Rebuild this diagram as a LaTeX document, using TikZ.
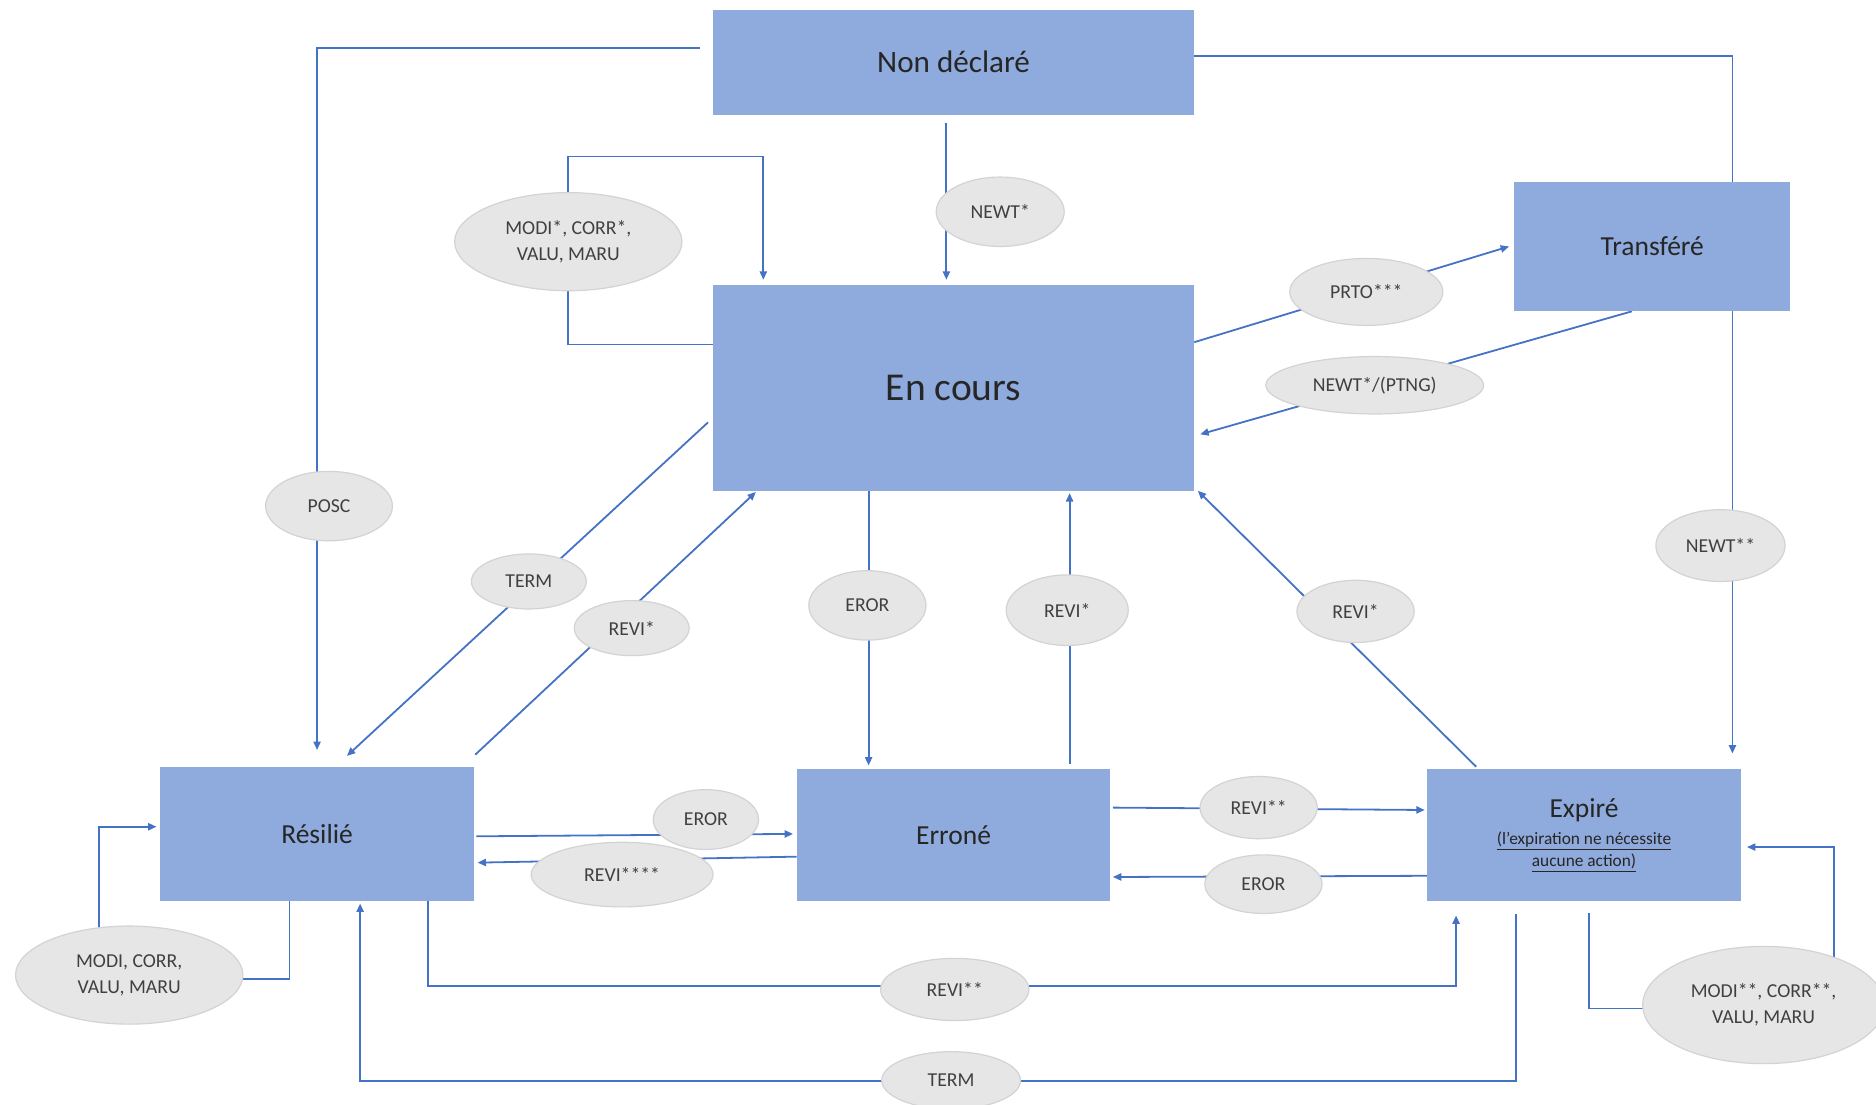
\documentclass[tikz,border=0pt]{standalone}
\usepackage{fontspec}
\setmainfont{Carlito}
\usepackage{tikz}
\definecolor{stateblue}{RGB}{143, 170, 220}
\definecolor{linkblue}{RGB}{68, 114, 196}
\definecolor{eventgray}{RGB}{231, 230, 230}
\definecolor{eventedge}{RGB}{212, 210, 210}
\usetikzlibrary{shapes.geometric, arrows.meta, positioning, calc, backgrounds}

\begin{document}
\begin{tikzpicture}[
    x=1pt, y=-1pt,
    state/.style={rectangle, fill=stateblue, inner sep=0pt, text=black!85,
                  align=center, font=\fontsize{23}{27}\selectfont},
    event/.style={ellipse, fill=eventgray, draw=eventedge, line width=1pt,
                  inner sep=0pt, text=black!75, align=center,
                  font=\fontsize{16.5}{22}\selectfont},
    link/.style={draw=linkblue, line width=1.5pt},
    arr/.style={link, -{Triangle[length=7pt, width=6pt]}}
]
    \useasboundingbox (0,0) rectangle (1568,923);

    % States
    \node[state, minimum width=402pt, minimum height=88pt, font=\fontsize{26}{30}\selectfont] (nondecl) at (797,52) {Non déclaré};
    \node[state, minimum width=402pt, minimum height=172pt, font=\fontsize{33}{38}\selectfont] (encours) at (797,324) {En cours};
    \node[state, minimum width=231pt, minimum height=108pt] (transf) at (1381,206) {Transféré};
    \node[state, minimum width=262pt, minimum height=112pt] (resil) at (265,697) {Résilié};
    \node[state, minimum width=262pt, minimum height=110pt] (erron) at (797,698) {Erroné};
    \node[state, minimum width=262pt, minimum height=110pt, font=\fontsize{14.5}{18.5}\selectfont] (expire) at (1324,698)
        {{\fontsize{23}{27}\selectfont Expiré}\\[4pt]\underline{(l’expiration ne nécessite}\\\underline{aucune action)}};

    % Events
    \node[event, minimum width=190pt, minimum height=82pt] (modiA) at (475,202) {MODI*, CORR*,\\VALU, MARU};
    \node[event, minimum width=107pt, minimum height=58pt] (newtA) at (836,177) {NEWT*};
    \node[event, minimum width=128pt, minimum height=56pt] (prto) at (1142,244) {PRTO***};
    \node[event, minimum width=182pt, minimum height=48pt] (ptng) at (1149,322) {NEWT*/(PTNG)};
    \node[event, minimum width=106pt, minimum height=58pt] (posc) at (275,423) {POSC};
    \node[event, minimum width=96pt, minimum height=46pt] (termA) at (442,486) {TERM};
    \node[event, minimum width=96pt, minimum height=46pt] (reviA) at (528,525) {REVI*};
    \node[event, minimum width=98pt, minimum height=58pt] (erorA) at (725,506) {EROR};
    \node[event, minimum width=102pt, minimum height=59pt] (reviB) at (892,510) {REVI*};
    \node[event, minimum width=98pt, minimum height=52pt] (reviC) at (1133,511) {REVI*};
    \node[event, minimum width=108pt, minimum height=60pt] (newtB) at (1438,456) {NEWT**};
    \node[event, minimum width=88pt, minimum height=50pt] (erorB) at (590,685) {EROR};
    \node[event, minimum width=152pt, minimum height=54pt] (reviD) at (520,731) {REVI****};
    \node[event, minimum width=98pt, minimum height=52pt] (reviE) at (1052,675) {REVI**};
    \node[event, minimum width=98pt, minimum height=49pt] (erorC) at (1056,739) {EROR};
    \node[event, minimum width=190pt, minimum height=82pt] (modiB) at (108,815) {MODI, CORR,\\VALU, MARU};
    \node[event, minimum width=124pt, minimum height=52pt] (reviF) at (798,827) {REVI**};
    \node[event, minimum width=116pt, minimum height=48pt] (termB) at (795,903) {TERM};
    \node[event, minimum width=202pt, minimum height=98pt] (modiC) at (1474,840) {MODI**, CORR**,\\VALU, MARU};

    % Lines
    \begin{scope}[on background layer]
    \draw[arr] ([shift={(-11pt,12pt)}]nondecl.west) -| ([yshift=14pt]resil.north);
    \draw[link] ([yshift=5pt]nondecl.east) -| ([xshift=67pt]transf.north);
    \draw[arr] ([shift={(-6pt,-7pt)}]nondecl.south) -- ([shift={(-6pt,4pt)}]encours.north);
    \draw[arr] ([yshift=36pt]encours.west) -| (modiA.center) |- ([shift={(-159pt,107pt)}]encours.north)
        -- ([shift={(-159pt,4pt)}]encours.north);
    \draw[arr] ([yshift=38pt]encours.east) -- ([xshift=-4pt]transf.west);
    \draw[arr] ([xshift=-17pt]transf.south) -- ([shift={(5pt,-39pt)}]encours.east);
    \draw[arr] ([xshift=67pt]transf.south) -- ([shift={(124pt,13pt)}]expire.north);
    \draw[arr] ([shift={(-4pt,-29pt)}]encours.west) -- ([shift={(25pt,9pt)}]resil.north);
    \draw[arr] ([shift={(1pt,10pt)}]resil.north east) -- ([shift={(36pt,-1pt)}]encours.south west);
    \draw[arr] ([xshift=-71pt]encours.south) -- ([shift={(-71pt,3pt)}]erron.north);
    \draw[arr] ([shift={(97pt,4pt)}]erron.north) -- ([shift={(97pt,-2pt)}]encours.south);
    \draw[arr] ([shift={(41pt,2pt)}]expire.north west) -- ([xshift=3pt]encours.south east);
    \draw[arr] ([shift={(2pt,-2pt)}]resil.east) -- ([shift={(-3pt,1pt)}]erron.west);
    \draw[arr] ([yshift=-18pt]erron.west) -- ([shift={(3pt,-24pt)}]resil.east);
    \draw[arr] ([shift={(2pt,23pt)}]erron.east) -- ([shift={(-2pt,21pt)}]expire.west);
    \draw[arr] ([yshift=-34pt]expire.west) -- ([shift={(2pt,-35pt)}]erron.east);
    \draw[arr] ([shift={(-23pt,3pt)}]resil.south) |- ([shift={(-25pt,-3pt)}]modiB.center)
        |- ([shift={(-3pt,6pt)}]resil.west);
    \draw[arr] ([shift={(4pt,-10pt)}]expire.south) |- ([shift={(59pt,-3pt)}]modiC.center)
        |- ([shift={(5pt,-10pt)}]expire.east);
    \draw[arr] ([xshift=93pt]resil.south) |- ([shift={(-107pt,-71pt)}]expire.south)
        -- ([shift={(-107pt,-12pt)}]expire.south);
    \draw[arr] ([shift={(-57pt,-11pt)}]expire.south) |- ([shift={(36pt,-150pt)}]resil.south)
        -- ([shift={(36pt,-2pt)}]resil.south);
    \end{scope}
\end{tikzpicture}
\end{document}
